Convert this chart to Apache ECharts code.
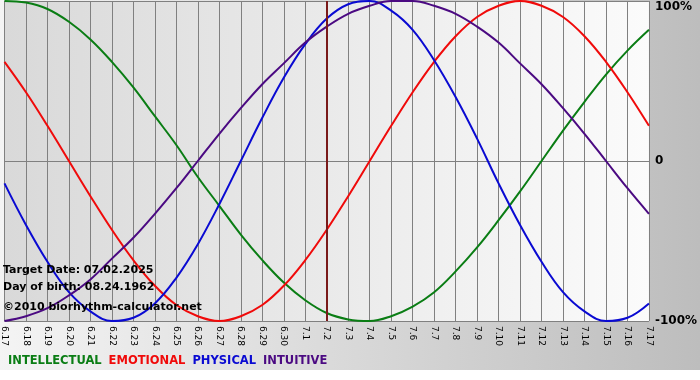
<!DOCTYPE html>
<html>
<head>
<meta charset="utf-8">
<script src="https://cdn.jsdelivr.net/npm/echarts@6/dist/echarts.min.js"></script>
<style>
html,body{margin:0;padding:0;background:#fff;}
#bioChart{width:700px;height:380px;}
</style>
</head>
<body>
<div id="bioChart"></div>
<script>
// days shown on the x axis
var days = ['6.17','6.18','6.19','6.20','6.21','6.22','6.23','6.24','6.25','6.26','6.27','6.28','6.29','6.30',
	'7.1','7.2','7.3','7.4','7.5','7.6','7.7','7.8','7.9','7.10','7.11','7.12','7.13','7.14','7.15','7.16','7.17'];
var targetDay = '7.2';

// values in percent
var intellectual = [100,99,95,87,76,62,46,28,10,-10,-28,-46,-62,-76,-87,-95,-99,-100,-97,-91,-82,-69,-54,-37,-19,0,19,37,54,69,82];
var emotional = [62,43,22,0,-22,-43,-62,-78,-90,-97,-100,-97,-90,-78,-62,-43,-22,0,22,43,62,78,90,97,100,97,90,78,62,43,22];
var physical = [-14,-40,-63,-82,-94,-100,-98,-89,-73,-52,-27,0,27,52,73,89,98,100,94,82,63,40,14,-14,-40,-63,-82,-94,-100,-98,-89];
var intuitive = [-100,-97,-92,-84,-74,-61,-48,-33,-17,0,17,33,48,61,74,84,92,97,100,100,97,92,84,74,61,48,33,17,0,-17,-33];

var infoLines = ['Target Date: 07.02.2025', 'Day of birth: 08.24.1962', '\u00a92010 biorhythm-calculator.net'];

var seriesNames = ['INTELLECTUAL','EMOTIONAL','PHYSICAL','INTUITIVE'];
var seriesColors = ['#0a7d14','#f00a0a','#0a0ad2','#4b0a82'];
var seriesData = [intellectual, emotional, physical, intuitive];

var chart = echarts.init(document.getElementById('bioChart'));
var font = '"DejaVu Sans", Verdana, sans-serif';

var series = [];
for (var i = 0; i < seriesNames.length; i++) {
	var s = {
		name: seriesNames[i],
		type: 'line',
		data: seriesData[i],
		smooth: 0.4,
		symbol: 'none',
		lineStyle: {color: seriesColors[i], width: 2},
		itemStyle: {color: seriesColors[i]},
		z: 3
	};
	if (i == 0) {
		// target date marker
		s.markLine = {
			silent: true,
			symbol: 'none',
			label: {show: false},
			lineStyle: {color: '#7a1a1a', width: 2, type: 'solid'},
			data: [{xAxis: targetDay}]
		};
	}
	series.push(s);
}

var legendData = [];
for (var j = 0; j < seriesNames.length; j++) {
	legendData.push({name: seriesNames[j], textStyle: {color: seriesColors[j]}});
}

var texts = [];
for (var k = 0; k < infoLines.length; k++) {
	texts.push({
		type: 'text',
		left: 3,
		top: [265, 282, 302][k],
		z: 100,
		style: {text: infoLines[k], fill: '#000', font: 'bold 11px ' + font}
	});
}

var option = {
	animation: false,
	graphic: [{
		type: 'rect',
		left: 0, top: 0, z: -10,
		shape: {width: 700, height: 370},
		style: {fill: new echarts.graphic.LinearGradient(0, 0, 1, 0, [
			{offset: 0, color: '#f4f4f4'}, {offset: 1, color: '#bdbdbd'}])}
	}].concat(texts),
	grid: {
		left: 1, right: 49, top: 1, bottom: 59,
		show: true,
		borderWidth: 0,
		backgroundColor: new echarts.graphic.LinearGradient(0, 0, 1, 0, [
			{offset: 0, color: '#d9d9d9'}, {offset: 1, color: '#fbfbfb'}])
	},
	legend: {
		left: 3, top: 354,
		padding: 0,
		icon: 'none',
		itemWidth: 0,
		itemGap: 2,
		selectedMode: false,
		textStyle: {fontFamily: font, fontWeight: 'bold', fontSize: 11.5},
		data: legendData
	},
	xAxis: {
		type: 'category',
		data: days,
		boundaryGap: false,
		axisLine: {show: true, lineStyle: {color: '#808080', width: 1}},
		axisTick: {show: false},
		splitLine: {show: true, interval: 0, lineStyle: {color: '#808080', width: 1}},
		axisLabel: {interval: 0, rotate: -90, margin: 5, color: '#000', fontSize: 9, fontFamily: font}
	},
	yAxis: {
		type: 'value',
		position: 'right',
		min: -100, max: 100, interval: 100,
		axisLine: {show: false},
		axisTick: {show: false},
		splitLine: {show: true, lineStyle: {color: '#808080', width: 1}},
		axisLabel: {
			margin: 6, color: '#000', fontSize: 12, fontWeight: 'bold', fontFamily: font,
			verticalAlignMaxLabel: 'top',
			formatter: function(v){ return v == 0 ? '0' : v + '%'; }
		}
	},
	series: series
};
chart.setOption(option);
</script>
</body>
</html>
